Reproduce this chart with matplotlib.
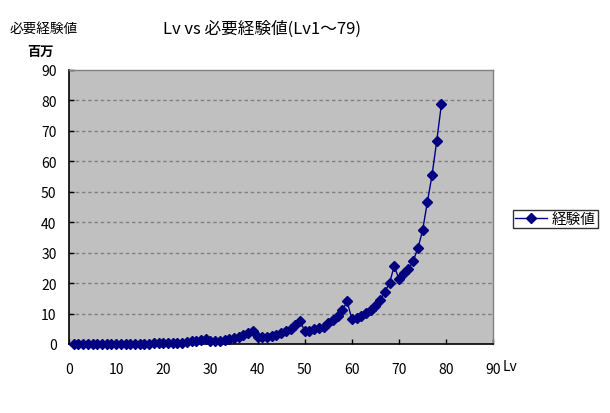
import matplotlib
matplotlib.use("Agg")
import matplotlib.pyplot as plt
from matplotlib.lines import Line2D

plt.rcParams['font.family'] = ['Noto Sans CJK JP', 'DejaVu Sans']

levels = list(range(1, 80))
exp_millions = [
    0.01, 0.02, 0.03, 0.04, 0.05, 0.07, 0.08, 0.10, 0.12, 0.08,
    0.09, 0.10, 0.11, 0.12, 0.13, 0.14, 0.15, 0.17, 0.22, 0.30,
    0.32, 0.40, 0.42, 0.45, 0.65, 0.95, 1.10, 1.30, 1.65, 1.05,
    0.90, 1.00, 1.20, 1.50, 1.90, 2.30, 2.80, 3.45, 4.25, 2.30,
    2.20, 2.25, 2.50, 3.00, 3.50, 4.20, 4.80, 6.10, 7.60, 4.30,
    4.40, 4.80, 5.10, 5.70, 6.90, 7.90, 9.10, 11.10, 14.00, 8.10,
    8.50, 9.20, 10.20, 11.20, 12.45, 14.40, 17.00, 20.20, 25.55, 21.30,
    23.20, 24.55, 27.30, 31.40, 37.30, 46.50, 55.40, 66.70, 78.80,
]
x_ticks = [0, 10, 20, 30, 40, 50, 60, 70, 80, 90]
y_ticks = [0, 10, 20, 30, 40, 50, 60, 70, 80, 90]
series_name = "経験値"
title = "Lv vs 必要経験値(Lv1～79)"

W, H = 610, 414
fig = plt.figure(figsize=(W / 100, H / 100), dpi=100)
fig.patch.set_facecolor('white')
ax = fig.add_axes([69 / W, 1 - 345 / H, (493.3 - 69) / W, (345 - 71) / H])
ax.set_facecolor('#C0C0C0')

navy = '#000080'
ax.plot(levels, exp_millions, color=navy, lw=1.0, marker='D', ms=4.8,
        mfc=navy, mec=navy, zorder=3, clip_on=False)

ax.set_xlim(0, 90)
ax.set_ylim(0, 90)
ax.set_xticks(x_ticks)
ax.set_yticks(y_ticks)
ax.tick_params(direction='in', length=3.5, width=1, colors='black',
               labelsize=10)
ax.tick_params(axis='y', pad=9)
ax.tick_params(axis='x', pad=13)

for v in y_ticks[1:-1]:
    ax.axhline(v, color='#808080', lw=1, dashes=(2.5, 2), zorder=1)

for s in ['left', 'bottom']:
    ax.spines[s].set_color('black')
    ax.spines[s].set_linewidth(1.2)
for s in ['top', 'right']:
    ax.spines[s].set_color('#808080')
    ax.spines[s].set_linewidth(1)

fig.text(262 / W, 1 - 29 / H, title, ha='center', va='center', fontsize=12)
fig.text(44 / W, 1 - 29 / H, "必要経験値", ha='center', va='center', fontsize=9.8)
fig.text(41 / W, 1 - 52 / H, "百万", ha='center', va='center', fontsize=9.5,
         fontweight='bold')
fig.text(503 / W, 1 - 367 / H, "Lv", ha='left', va='center', fontsize=10)

handle = Line2D([], [], color=navy, lw=1.0, marker='D', ms=4.8, mfc=navy, mec=navy)
leg = fig.legend([handle], [series_name], loc='center left',
                 bbox_to_anchor=(513 / W, 1 - 220 / H), frameon=True,
                 fancybox=False, edgecolor='black', fontsize=10.5,
                 handlelength=2.2, handletextpad=0.3, borderpad=0.15,
                 borderaxespad=0)
leg.get_frame().set_linewidth(1)

fig.savefig('out.png', dpi=100, facecolor='white')
